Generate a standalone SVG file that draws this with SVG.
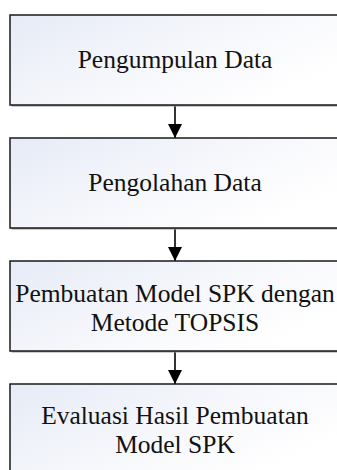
<svg xmlns="http://www.w3.org/2000/svg" width="337" height="470" viewBox="0 0 337 470">
  <defs>
    <linearGradient id="fill" x1="0" y1="0" x2="1" y2="0.6">
      <stop offset="0" stop-color="#e6ebf6"/>
      <stop offset="0.6" stop-color="#f7f8fc"/>
      <stop offset="1" stop-color="#ffffff"/>
    </linearGradient>
    <marker id="arrow" markerUnits="userSpaceOnUse" markerWidth="14" markerHeight="15" refX="14" refY="7" orient="auto" viewBox="0 0 14 14">
      <path d="M0,0 L14,7 L0,14 Z" fill="#000"/>
    </marker>
  </defs>
  <style>
    .shadow { fill: #9a9a9a; }
    .box { fill: url(#fill); stroke: #1a1a1a; stroke-width: 1.5; }
    .label { font-family: "Liberation Serif", "Times New Roman", serif; font-size: 25.5px; fill: #111; text-anchor: middle; }
    .conn { stroke: #000; stroke-width: 1.6; fill: none; marker-end: url(#arrow); }
  </style>

  <g id="connectors">
    <line class="conn" x1="175" y1="105" x2="175" y2="138"/>
    <line class="conn" x1="175" y1="228" x2="175" y2="261"/>
    <line class="conn" x1="175" y1="351" x2="175" y2="384"/>
  </g>

  <g id="node1">
    <rect class="shadow" x="11.5" y="16.5" width="330" height="90"/>
    <rect class="box" x="10" y="15" width="330" height="90"/>
    <text class="label" x="175" y="68">Pengumpulan Data</text>
  </g>

  <g id="node2">
    <rect class="shadow" x="11.5" y="139.5" width="330" height="90"/>
    <rect class="box" x="10" y="138" width="330" height="90"/>
    <text class="label" x="175" y="191">Pengolahan Data</text>
  </g>

  <g id="node3">
    <rect class="shadow" x="11.5" y="262.5" width="330" height="90"/>
    <rect class="box" x="10" y="261" width="330" height="90"/>
    <text class="label" x="175" y="302">Pembuatan Model SPK dengan</text>
    <text class="label" x="175" y="331">Metode TOPSIS</text>
  </g>

  <g id="node4">
    <rect class="shadow" x="11.5" y="385.5" width="330" height="90"/>
    <rect class="box" x="10" y="384" width="330" height="90"/>
    <text class="label" x="175" y="424">Evaluasi Hasil Pembuatan</text>
    <text class="label" x="175" y="453">Model SPK</text>
  </g>
</svg>
